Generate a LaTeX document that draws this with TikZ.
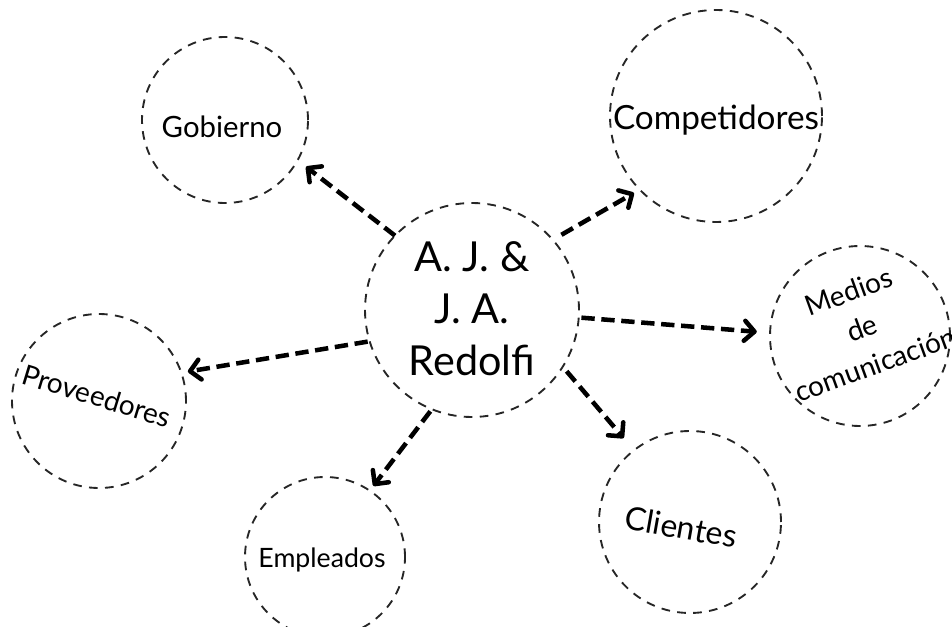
\documentclass[tikz,border=0pt]{standalone}
\usepackage{fontspec}
\setmainfont{Lato}
\usepackage{tikz}
\usetikzlibrary{arrows.meta}

\begin{document}
\begin{tikzpicture}
  [
    x=0.75pt, y=-0.75pt,
    actor/.style={circle, draw=black!85, line width=1.4pt,
      dash pattern=on 6.5pt off 5.5pt, inner sep=0pt, outer sep=0pt},
    tag/.style={font=\fontsize{22}{26}\selectfont, align=center, inner sep=0pt},
    rel/.style={draw=black, line width=3.4pt, dash pattern=on 10pt off 5pt,
      -{Straight Barb[length=7.5pt,width=15pt,round]}}
  ]
  \useasboundingbox (0,0) rectangle (952,627);

  % the firm and the groups round it
  \node  (firm) at (472,310) [actor, minimum size=160.5pt] {};
  \node   (gob) at (225,120) [actor, minimum size=124.5pt] {};
  \node  (comp) at (716,116) [actor, minimum size=159pt] {};
  \node   (med) at (860,336) [actor, minimum size=135pt] {};
  \node   (cli) at (690,522) [actor, minimum size=136.5pt] {};
  \node  (empl) at (325,557) [actor, minimum size=120pt] {};
  \node  (prov) at ( 99,401) [actor, minimum size=130.5pt] {};

  \node  (firmtxt) at (472,309) [tag, font=\fontsize{31}{39}\selectfont]
    {A. J. \&\\J. A.\\Redolfi};
  \node   (gobtxt) at (222,127) [tag] {Gobierno};
  \node  (comptxt) at (716,120) [tag, font=\fontsize{25}{30}\selectfont] {Competidores};
  \node   (medtxt) at (862,328) [tag, rotate=20, font=\fontsize{21}{29}\selectfont]
    {Medios\\de\\comunicación};
  \node   (clitxt) at (681,527) [tag, rotate=-10, font=\fontsize{24}{28}\selectfont] {Clientes};
  \node  (empltxt) at (322,560) [tag, font=\fontsize{20}{24}\selectfont] {Empleados};
  \node  (provtxt) at ( 97,396) [tag, rotate=-17, font=\fontsize{21}{25}\selectfont] {Proveedores};

  \draw [rel, shorten >=8pt]
    (firm.136) -- (gob.331.5);
  \draw [rel, shorten <=7.5pt, shorten >=5pt]
    (firm.41.6) -- (comp.224.3);
  \draw [rel, shorten <=2pt, shorten >=10pt]
    (firm.356) -- (med.178.3);
  \draw [rel, shorten <=4.5pt, shorten >=12pt]
    (firm.328) -- (cli.128.6);
  \draw [rel, shorten <=2pt, shorten >=4.5pt]
    (firm.248) -- (empl.56.7);
  \draw [rel, shorten <=1.5pt, shorten >=5pt]
    (firm.197.6) -- (prov.19.2);
\end{tikzpicture}
\end{document}
